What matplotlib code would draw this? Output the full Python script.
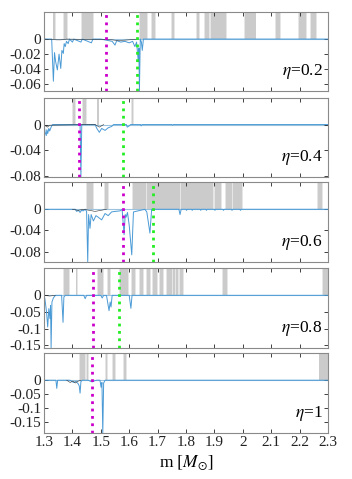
import numpy as np
import matplotlib.pyplot as plt

plt.rcParams['font.family'] = ['Liberation Serif', 'DejaVu Serif']
plt.rcParams['mathtext.fontset'] = 'stix'
plt.rcParams['axes.unicode_minus'] = False

# eta values of the five panels
etas = ['0.2', '0.4', '0.6', '0.8', '1']

# y limits and y ticks per panel
ylims = [(-0.069, 0.036), (-0.081, 0.041), (-0.0995, 0.0515), (-0.158, 0.082), (-0.188, 0.097)]
yticks = [[0, -0.02, -0.04, -0.06], [0, -0.04, -0.08], [0, -0.04, -0.08],
          [0, -0.05, -0.1, -0.15], [0, -0.05, -0.1, -0.15]]

# vertical marker lines (magenta, green); None = not shown
m_magenta = [1.517, 1.423, 1.577, 1.472, 1.468]
m_green = [1.626, 1.577, 1.683, 1.563, None]

# gray regions (m start, m end)
gray1 = [(1.333, 1.339), (1.370, 1.381), (1.433, 1.474), (1.638, 1.662), (1.679, 1.691),
         (1.751, 1.757), (1.839, 1.845), (1.866, 1.881), (1.888, 1.941), (2.007, 2.045),
         (2.117, 2.130), (2.198, 2.222), (2.240, 2.258)]
gray2 = [(1.403, 1.409), (1.438, 1.447), (1.488, 1.492), (1.609, 1.614)]
gray3 = [(1.450, 1.474), (1.515, 1.526), (1.612, 1.660), (1.664, 1.778), (1.781, 1.895),
         (1.901, 1.924), (1.940, 1.963), (1.966, 1.998), (2.266, 2.280)]
gray4 = [(1.370, 1.389), (1.414, 1.417), (1.491, 1.509), (1.526, 1.532), (1.568, 1.597),
         (1.609, 1.620), (1.638, 1.650), (1.662, 1.673), (1.685, 1.697), (1.708, 1.720),
         (1.732, 1.750), (1.754, 1.760), (1.766, 1.772), (1.780, 1.789), (1.930, 1.944),
         (2.282, 2.300)]
gray5 = [(1.427, 1.444), (1.450, 1.456), (1.518, 1.522), (1.544, 1.550), (1.582, 1.589),
         (2.270, 2.300)]
grays = [gray1, gray2, gray3, gray4, gray5]

# blue curves
m1 = [1.300, 1.327, 1.333, 1.337, 1.341, 1.347, 1.353, 1.359, 1.363, 1.368, 1.371, 1.375, 1.379,
      1.385, 1.390, 1.400, 1.405, 1.43, 1.435, 1.467, 1.472, 1.50, 1.54, 1.55, 1.556, 1.57,
      1.585, 1.60, 1.612, 1.620, 1.626, 1.632, 1.634, 1.636, 1.639, 1.643, 1.646, 1.650, 2.300]
v1 = [0, 0, -0.056, -0.018, -0.030, -0.041, -0.020, -0.039, -0.015, -0.019, -0.006, -0.010, -0.003,
      -0.006, 0, -0.004, 0, -0.004, 0, -0.005, 0, 0, -0.003, -0.008, -0.002, -0.004,
      -0.003, -0.005, -0.003, -0.010, -0.004, -0.030, -0.012, -0.069, 0, -0.004, -0.015, 0, 0]
m2 = [1.300, 1.304, 1.308, 1.310, 1.313, 1.317, 1.320, 1.326, 1.330, 1.427, 1.430, 1.433,
      1.480, 1.486, 1.495, 1.503, 1.515, 1.526, 1.538, 1.545, 1.590, 1.593, 1.600, 1.605,
      1.640, 1.642, 1.645, 1.750, 1.752, 1.755, 2.300]
v2 = [0, -0.012, -0.017, -0.008, -0.014, -0.006, -0.010, -0.003, 0, 0, -0.081, 0,
      0, -0.006, -0.012, -0.006, -0.009, -0.005, -0.003, 0, 0, -0.004, -0.002, 0,
      0, -0.002, 0, 0, -0.001, 0, 0]
m3 = [1.300, 1.410, 1.415, 1.421, 1.427, 1.432, 1.438, 1.445, 1.450, 1.454, 1.457, 1.462,
      1.466, 1.474, 1.483, 1.491, 1.503, 1.515, 1.526, 1.538, 1.550, 1.568, 1.575, 1.582,
      1.586, 1.589, 1.594, 1.600, 1.609, 1.615, 1.655, 1.662, 1.673, 1.679, 1.775, 1.779,
      1.783, 1.800, 1.802, 1.804, 1.820, 1.822, 1.824, 1.850, 1.852, 1.854, 1.870, 1.872,
      1.874, 1.900, 1.902, 1.904, 1.930, 1.932, 1.934, 1.960, 1.962, 1.964, 1.990, 1.992,
      1.994, 2.300]
v3 = [0, 0, -0.004, -0.002, -0.006, -0.002, -0.003, 0, -0.004, -0.099, -0.010, -0.036,
      -0.010, -0.022, -0.012, -0.015, -0.020, -0.008, -0.012, -0.005, -0.004, -0.003, 0, -0.048,
      -0.010, -0.015, -0.006, -0.030, -0.086, -0.005, 0, -0.005, -0.045, 0, 0, -0.010,
      0, 0, -0.002, 0, 0, -0.002, 0, 0, -0.002, 0, 0, -0.002,
      0, 0, -0.002, 0, 0, -0.002, 0, 0, -0.002, 0, 0, -0.002,
      0, 0]
m4 = [1.300, 1.303, 1.309, 1.313, 1.317, 1.321, 1.323, 1.325, 1.328, 1.333, 1.340, 1.362,
      1.367, 1.370, 1.375, 1.440, 1.445, 1.450, 1.500, 1.505, 1.510, 1.520, 1.529, 1.533,
      1.536, 1.540, 1.600, 1.606, 1.610, 2.300]
v4 = [0, -0.010, -0.050, -0.095, -0.040, -0.070, -0.030, -0.157, -0.020, -0.008, 0, 0,
      -0.081, -0.005, 0, 0, -0.010, 0, 0, -0.008, 0, 0, -0.046, -0.020,
      -0.035, 0, 0, -0.039, 0, 0]
m5 = [1.300, 1.342, 1.345, 1.348, 1.392, 1.397, 1.405, 1.412, 1.420, 1.424, 1.427, 1.430,
      1.435, 1.455, 1.462, 1.470, 1.478, 1.485, 1.497, 1.501, 1.504, 1.507, 1.510, 1.515,
      2.300]
v5 = [0, 0, -0.029, 0, 0, -0.004, -0.008, -0.004, -0.012, -0.020, -0.046, -0.005,
      0, 0, -0.003, -0.006, -0.002, 0, 0, -0.025, -0.008, -0.188, -0.010, 0,
      0]
blue_m = [m1, m2, m3, m4, m5]
blue_v = [v1, v2, v3, v4, v5]

# black curves (small wiggles near zero)
k_m = [[1.300, 1.345, 1.360, 1.380, 1.540, 1.560, 1.600, 1.630],
       [1.305, 1.312, 1.320, 1.480, 1.495, 1.510],
       [1.400, 1.420, 1.440, 1.470, 1.480, 1.500, 1.520],
       [1.300, 1.320, 1.340],
       [1.380, 1.392, 1.402, 1.410, 1.418, 1.430]]
k_v = [[0, -0.001, -0.001, 0, -0.001, -0.002, -0.001, 0],
       [-0.002, -0.004, -0.001, 0, -0.004, 0],
       [0, -0.002, 0, -0.003, -0.004, -0.002, 0],
       [0, -0.002, 0],
       [0, -0.008, -0.003, -0.010, -0.004, 0]]

fig = plt.figure(figsize=(3.52, 4.79), dpi=100)
bottoms = [91, 177, 262, 348, 433]
tops = [12, 98, 182, 268, 353]
fringe = 0.003
for i in range(5):
    b = 1 - bottoms[i] / 479
    h = (bottoms[i] - tops[i]) / 479
    ax = fig.add_axes([44 / 352, b, 284 / 352, h])
    lo, hi = ylims[i]
    for a, e in grays[i]:
        ax.fill_between([a - fringe, e + fringe], 0, hi, color='#e6e6e6', linewidth=0)
        ax.fill_between([a, e], 0, hi, color='#cbcbcb', linewidth=0)
    ax.axhline(0, color='#9cc3dd', lw=0.8, zorder=1)
    ax.plot(blue_m[i], blue_v[i], color='#4a9ad6', lw=0.7)
    ax.plot(k_m[i], k_v[i], color='#333333', lw=0.4)
    ax.axvline(m_magenta[i], color='#cc00cc', ls=':', lw=2)
    if m_green[i] is not None:
        ax.axvline(m_green[i], color='#22ee22', ls=':', lw=2)
    ax.set_xlim(1.3, 2.3)
    ax.set_ylim(lo, hi)
    ax.set_yticks(yticks[i])
    ax.set_yticklabels(['%g' % t for t in yticks[i]])
    ax.set_xticks(np.arange(1.3, 2.31, 0.1))
    ax.tick_params(direction='in', top=True, right=True, length=3, width=0.6,
                   labelsize=11, colors='#222222', pad=2)
    for s in ax.spines.values():
        s.set_color('#8a8a8a')
        s.set_linewidth(0.8)
    ax.text(0.98, 0.13, r'$\eta$=' + etas[i], transform=ax.transAxes, ha='right',
            va='bottom', fontsize=12.5)
    if i < 4:
        ax.set_xticklabels([])
    else:
        ax.set_xticklabels(['%g' % t for t in np.round(np.arange(1.3, 2.31, 0.1), 1)])
        ax.set_xlabel(r'm $[M_{\odot}]$', fontsize=12.5, labelpad=3)

fig.savefig('out.png', dpi=100)
